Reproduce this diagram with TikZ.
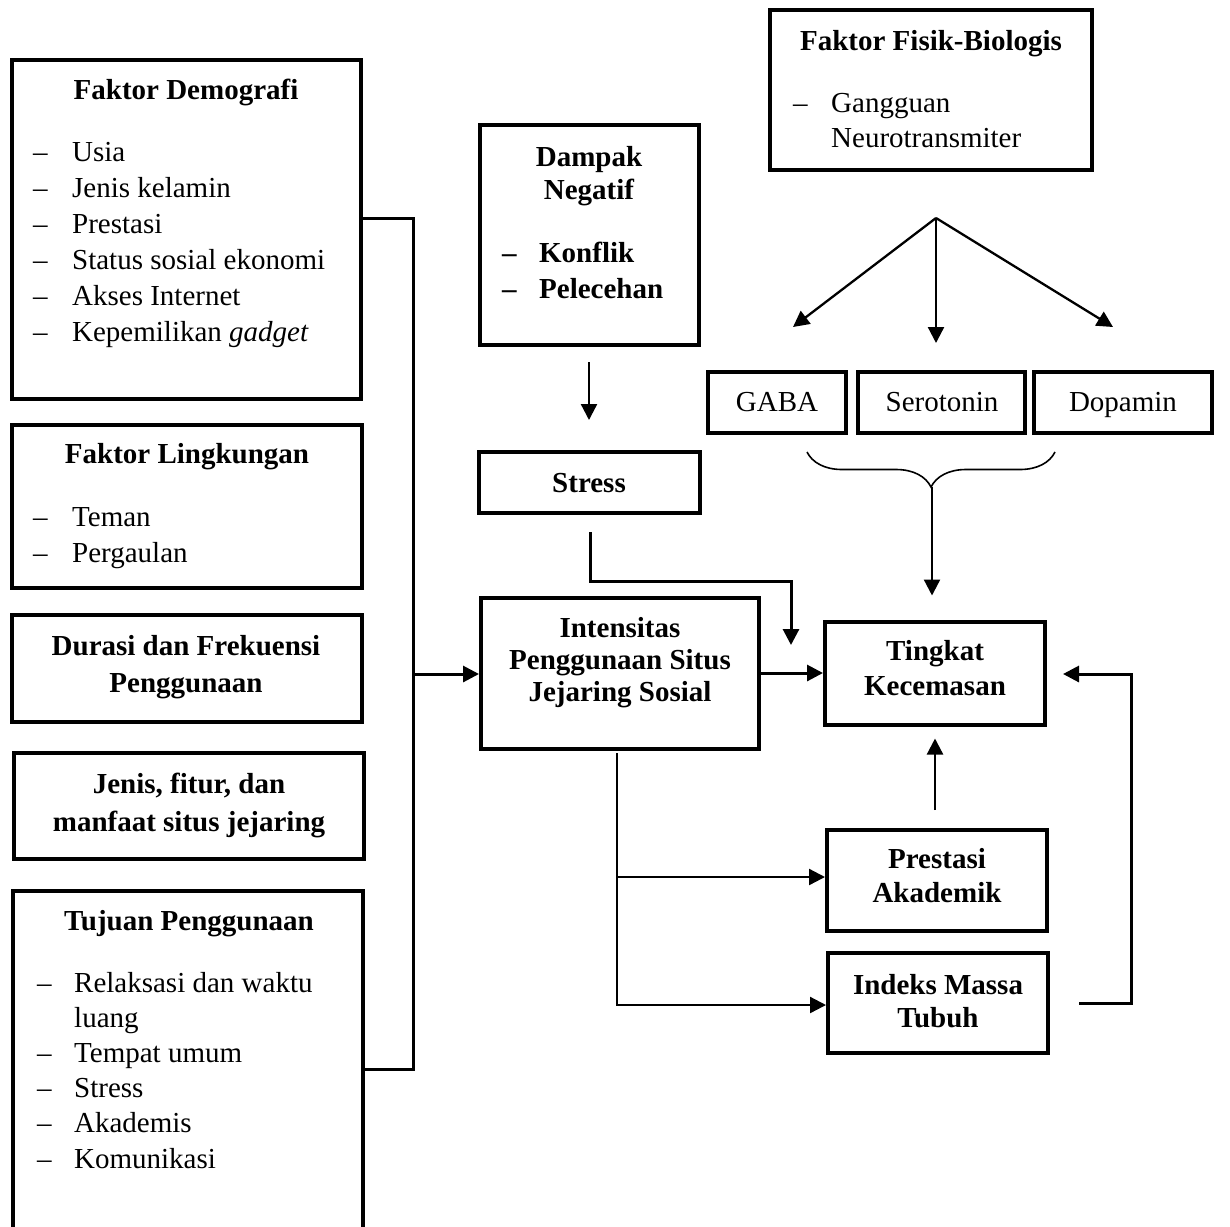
\documentclass[tikz,border=0pt]{standalone}
\usepackage{fontspec}
\setmainfont{Liberation Serif}
\usetikzlibrary{arrows.meta,decorations.pathreplacing}

% stacked lines (first row is the baseline)
\newcommand{\cstack}[2]{{\fontsize{29}{#1}\selectfont\begin{tabular}[t]{@{}c@{}}#2\end{tabular}}}
\newcommand{\dlist}[3]{{\fontsize{29}{#2}\selectfont\begin{tabular}[t]{@{}p{#1}@{}l@{}}#3\end{tabular}}}

\tikzset{
  box/.style={draw, line width=4pt, inner sep=0pt},
  ttl/.style={font=\fontsize{29}{34}\selectfont\bfseries, anchor=base, inner sep=0pt},
  txt/.style={font=\fontsize{29}{36}\selectfont, anchor=base west, inner sep=0pt},
  lbl/.style={font=\fontsize{29}{36}\selectfont, anchor=base, inner sep=0pt},
  arr/.style={-{Triangle[length=16pt,width=16pt]}, line width=2.3pt},
  bus/.style={line width=3pt},
}

\begin{document}
\begin{tikzpicture}[x=1pt,y=-1pt]
\useasboundingbox (0,0) rectangle (1230,1226);

% left column
\node[box, minimum width=349pt, minimum height=339pt] (demo) at (186.5,229.5) {};
\node[ttl] (demoT) at (186,99) {Faktor Demografi};
\node[txt] (demoL) at (33,161) {\dlist{39pt}{36}{%
  \textendash & Usia\\ \textendash & Jenis kelamin\\ \textendash & Prestasi\\
  \textendash & Status sosial ekonomi\\ \textendash & Akses Internet\\
  \textendash & Kepemilikan \textit{gadget}}};

\node[box, minimum width=350pt, minimum height=163pt] (lingk) at (187,506.5) {};
\node[ttl] (lingkT) at (187,463) {Faktor Lingkungan};
\node[txt] (lingkL) at (33,526) {\dlist{39pt}{36}{\textendash & Teman\\ \textendash & Pergaulan}};

\node[box, minimum width=350pt, minimum height=107pt] (durasi) at (187,668.5) {};
\node[ttl] (durasiT) at (186,655) {\cstack{37}{Durasi dan Frekuensi\\Penggunaan}};

\node[box, minimum width=350pt, minimum height=106pt] (jenis) at (189,806) {};
\node[ttl] (jenisT) at (189,793) {\cstack{38}{Jenis, fitur, dan\\manfaat situs jejaring}};

\node[box, minimum width=350pt, minimum height=341pt] (tujuan) at (188,1061.5) {};
\node[ttl] (tujuanT) at (189,930) {Tujuan Penggunaan};
\node[txt] (tujuanL) at (37,992) {\dlist{37pt}{35.2}{%
  \textendash & Relaksasi dan waktu\\ & luang\\ \textendash & Tempat umum\\
  \textendash & Stress\\ \textendash & Akademis\\ \textendash & Komunikasi}};

% middle column
\node[box, minimum width=219pt, minimum height=220pt] (dampak) at (589,235) {};
\node[ttl] (dampakT) at (589,166) {\cstack{33}{Dampak\\Negatif}};
\node[txt, font=\fontsize{29}{36}\selectfont\bfseries] (dampakL) at (502,262)
  {\dlist{37pt}{36}{\textendash & Konflik\\ \textendash & Pelecehan}};

\node[box, minimum width=221pt, minimum height=61pt] (stress) at (589,482.5) {};
\node[ttl] (stressT) at (589,492) {Stress};

\node[box, minimum width=278pt, minimum height=151pt] (intens) at (620,673) {};
\node[ttl] (intensT) at (620,637) {\cstack{32}{Intensitas\\Penggunaan Situs\\Jejaring Sosial}};

% right column
\node[box, minimum width=322pt, minimum height=160pt] (fisik) at (931,90) {};
\node[ttl] (fisikT) at (931,50) {Faktor Fisik-Biologis};
\node[txt] (fisikL) at (793,112) {\dlist{38pt}{35}{\textendash & Gangguan\\ & Neurotransmiter}};

\node[box, minimum width=138pt, minimum height=61pt] (gaba) at (777,402.5) {};
\node[lbl] (gabaT) at (777,411) {GABA};
\node[box, minimum width=167pt, minimum height=61pt] (sero) at (941.5,402.5) {};
\node[lbl] (seroT) at (942,411) {Serotonin};
\node[box, minimum width=178pt, minimum height=61pt] (dopa) at (1123,402.5) {};
\node[lbl] (dopaT) at (1123,411) {Dopamin};

\node[box, minimum width=220pt, minimum height=103pt] (tingkat) at (935,673) {};
\node[ttl] (tingkatT) at (935,660) {\cstack{35}{Tingkat\\Kecemasan}};

\node[box, minimum width=220pt, minimum height=101pt] (prest) at (937,880.5) {};
\node[ttl] (prestT) at (937,868) {\cstack{34}{Prestasi\\Akademik}};

\node[box, minimum width=220pt, minimum height=100pt] (imt) at (938,1003) {};
\node[ttl] (imtT) at (938,994) {\cstack{33}{Indeks Massa\\Tubuh}};

% factors into intensitas
\coordinate (busT) at (413,218);
\coordinate (busM) at (413,674);
\coordinate (busB) at (413,1069);
\draw[bus] (demo.east |- busT) -- (busT) -- (busB) -- (tujuan.east |- busB);
\draw[arr, bus] (busM) -- (intens.west |- busM);

% dampak -> stress -> tingkat
\draw[arr, shorten <=15pt, shorten >=30pt] (dampak) -- (stress);
\coordinate (sT) at (590,581);
\coordinate (sK) at (791,581);
\coordinate (sE) at (791,645);
\draw[arr, bus, shorten <=17pt] (stress.south -| sT) -- (sT) -- (sK) -- (sE);

\draw[arr, bus] (intens) -- (tingkat);

% fisik-biologis branches
\coordinate (apex) at (936,218);
\coordinate (gA) at (793,327);
\coordinate (gB) at (936,343);
\coordinate (gC) at (1113,327);
\draw[arr] (apex) -- (gA);
\draw[arr] (apex) -- (gB);
\draw[arr] (apex) -- (gC);

\draw[line width=1.6pt, decorate, decoration={brace, amplitude=35pt}] (1055,452) -- (807,452);
\coordinate (bt) at (932,487);
\draw[arr, shorten >=24pt] (bt) -- (bt |- tingkat.north);

\draw[arr, shorten <=18pt, shorten >=12pt] (prest.north -| tingkat.south) -- (tingkat.south);

% intensitas -> prestasi, imt
\coordinate (sp) at (617,753);
\coordinate (sp1) at (617,877);
\coordinate (sp2) at (617,1005);
\draw[arr] (sp) -- (sp2) -- (sp2 -| imt.west);
\draw[arr] (sp1) -- (sp1 -| prest.west);

% imt -> tingkat
\coordinate (fb1) at (1079,1003);
\coordinate (fb2) at (1131,1003);
\coordinate (fb3) at (1131,674);
\coordinate (fb4) at (1063,674);
\draw[arr, bus] (fb1) -- (fb2) -- (fb3) -- (fb4);
\end{tikzpicture}
\end{document}
